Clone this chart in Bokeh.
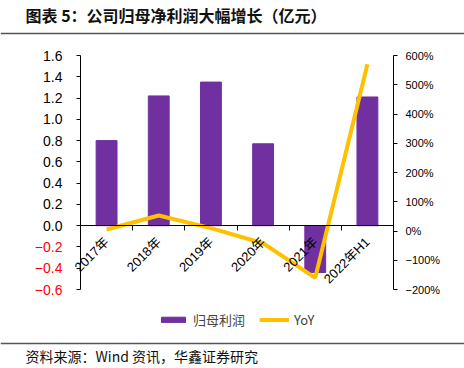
import math
from bokeh.plotting import figure
from bokeh.models import (Range1d, LinearAxis, FixedTicker, CustomJSTickFormatter,
                          Legend, LegendItem, ColumnDataSource, Label, Span)
from bokeh.embed import file_html
from bokeh.resources import INLINE

# ---- data ----
categories = ["2017年", "2018年", "2019年", "2020年", "2021年", "2022年H1"]
profit = [0.80, 1.22, 1.35, 0.77, -0.44, 1.21]          # 亿元
yoy = [5, 53, 10, -42, -160, 570]                       # %
left_pos_ticks = [0.0, 0.2, 0.4, 0.6, 0.8, 1.0, 1.2, 1.4, 1.6]
left_neg_ticks = [-0.6, -0.4, -0.2]
right_ticks = [-200, -100, 0, 100, 200, 300, 400, 500, 600]
left_bounds = (-0.6, 1.6)
right_bounds = (-200, 600)
title_text = "图表 5：公司归母净利润大幅增长（亿元）"
source_text = "资料来源：Wind 资讯，华鑫证券研究"

FONT = "Liberation Sans, Noto Sans CJK SC"
CJK = "Noto Sans CJK SC"

W, H = 464, 368
# plot-area box inside the figure (pixels from top-left)
FL, FR, FT, FB = 80, 393, 55, 289
n = len(categories)
xs = (FR - FL) / n
x_start = -FL / xs
x_end = n + (W - FR) / xs
ys = (FB - FT) / (left_bounds[1] - left_bounds[0])
y_end = left_bounds[1] + FT / ys
y_start = left_bounds[0] - (H - FB) / ys
rs = (FB - FT) / (right_bounds[1] - right_bounds[0])
r_end = right_bounds[1] + FT / rs
r_start = right_bounds[0] - (H - FB) / rs

def y_of_px(py):
    return y_end - py / ys

xpos = [i + 0.5 for i in range(n)]
src = ColumnDataSource(dict(x=xpos, profit=profit, yoy=yoy))

p = figure(width=W, height=H, x_range=Range1d(x_start, x_end),
           y_range=Range1d(y_start, y_end), output_backend="svg", toolbar_location=None,
           x_axis_type=None, y_axis_type=None, outline_line_color=None,
           min_border=0, min_border_left=0, min_border_right=0,
           min_border_top=0, min_border_bottom=0)
p.title.visible = False
p.extra_y_ranges = {"yoy": Range1d(r_start, r_end)}

bars = p.vbar(x="x", top="profit", width=0.4, source=src, color="#7030A0")
line = p.line(x="x", y="yoy", source=src, y_range_name="yoy", line_color="#FFC000", line_width=4)

def style_axis(ax, font_size, color, standoff):
    ax.axis_line_color = "black"
    ax.major_tick_line_color = "black"
    ax.major_tick_in = 0
    ax.major_tick_out = 4
    ax.minor_tick_line_color = None
    ax.major_label_standoff = standoff
    ax.major_label_text_font = FONT
    ax.major_label_text_font_size = font_size
    ax.major_label_text_color = color

ax_pos = LinearAxis(ticker=FixedTicker(ticks=left_pos_ticks),
                    formatter=CustomJSTickFormatter(code="return tick.toFixed(1);"),
                    fixed_location=0, bounds=(0, left_bounds[1]))
style_axis(ax_pos, "14px", "black", 14)
p.add_layout(ax_pos, "left")

ax_neg = LinearAxis(ticker=FixedTicker(ticks=left_neg_ticks),
                    formatter=CustomJSTickFormatter(code="return '\u2212' + Math.abs(tick).toFixed(1);"),
                    fixed_location=0, bounds=(left_bounds[0], 0))
style_axis(ax_neg, "14px", "red", 14)
p.add_layout(ax_neg, "left")

ax_r = LinearAxis(y_range_name="yoy", ticker=FixedTicker(ticks=right_ticks),
                  formatter=CustomJSTickFormatter(code="return (tick < 0 ? '\u2212' : '') + Math.abs(tick) + '%';"),
                  fixed_location=n, bounds=right_bounds)
style_axis(ax_r, "11px", "black", 8)
p.add_layout(ax_r, "right")

ax_xlab = LinearAxis(ticker=FixedTicker(ticks=xpos),
                     major_label_overrides={xv: c for xv, c in zip(xpos, categories)},
                     fixed_location=0, bounds=(0, n))
ax_xlab.axis_line_color = "black"
ax_xlab.major_tick_line_color = None
ax_xlab.minor_tick_line_color = None
ax_xlab.major_label_orientation = math.pi / 4
ax_xlab.major_label_standoff = 8
ax_xlab.major_label_text_font = FONT
ax_xlab.major_label_text_font_size = "13px"
ax_xlab.major_label_text_color = "black"
p.add_layout(ax_xlab, "below")

ax_xtick = LinearAxis(ticker=FixedTicker(ticks=list(range(1, n))),
                      formatter=CustomJSTickFormatter(code="return '';"),
                      fixed_location=0, bounds=(0, n))
ax_xtick.axis_line_color = "black"
ax_xtick.major_tick_line_color = "black"
ax_xtick.major_tick_in = 0
ax_xtick.major_tick_out = 5
ax_xtick.minor_tick_line_color = None
p.add_layout(ax_xtick, "below")

legend = Legend(items=[LegendItem(label="归母利润", renderers=[bars]),
                       LegendItem(label="YoY", renderers=[line])],
                orientation="horizontal", location=(158, 39),
                border_line_color=None, background_fill_alpha=0,
                glyph_width=30, glyph_height=7, label_text_font=CJK,
                label_text_font_size="13px", spacing=14, padding=0, margin=0,
                label_standoff=5)
p.add_layout(legend)

p.add_layout(Label(x=25, y=H - 14, x_units="screen", y_units="screen", text=title_text,
                   text_font=CJK, text_font_style="bold", text_font_size="16px",
                   text_color="#111111", text_baseline="middle"))
p.add_layout(Span(location=y_of_px(33), dimension="width",
                  line_color="#555555", line_width=1.5))
p.add_layout(Span(location=y_of_px(343), dimension="width",
                  line_color="#555555", line_width=1.5))
p.add_layout(Label(x=25, y=H - 355, x_units="screen", y_units="screen", text=source_text,
                   text_font=CJK, text_font_size="14px",
                   text_color="#111111", text_baseline="middle"))

open("out.html", "w").write(file_html(p, INLINE))
